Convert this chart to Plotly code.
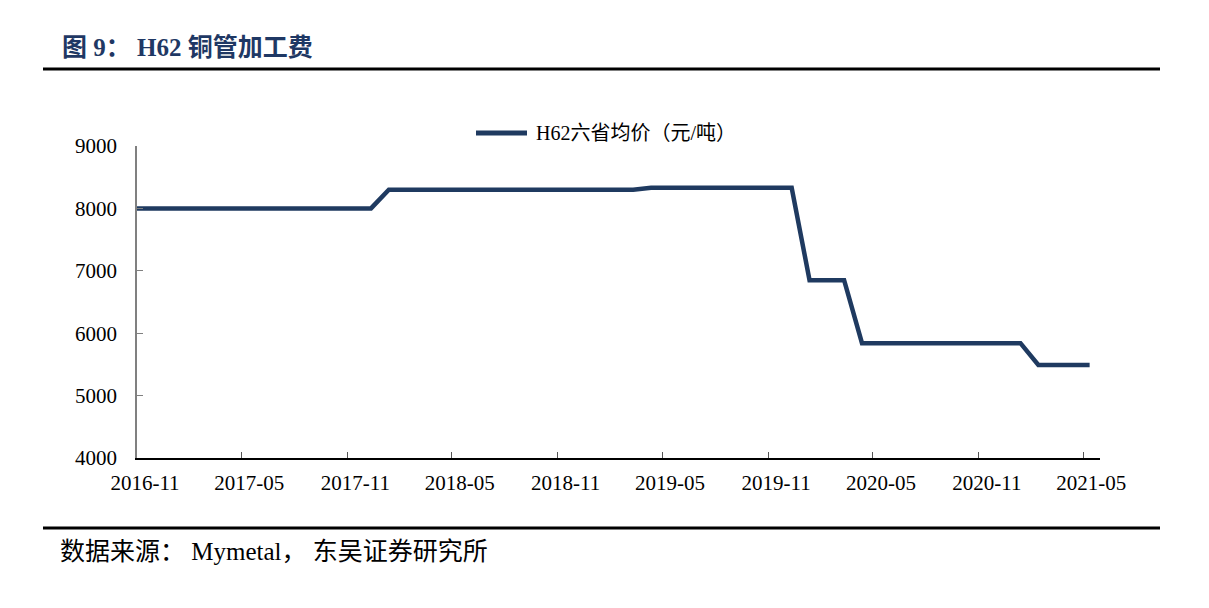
import plotly.graph_objects as go

# H62 copper tube processing fee, monthly readings (yuan/ton)
dates = ["2016-11-01", "2016-12-12",
         "2017-01-12", "2017-02-12", "2017-03-12", "2017-04-12", "2017-05-12", "2017-06-12",
         "2017-07-12", "2017-08-12", "2017-09-12", "2017-10-12", "2017-11-12", "2017-12-12",
         "2018-01-12", "2018-02-12", "2018-03-12", "2018-04-12", "2018-05-12", "2018-06-12",
         "2018-07-12", "2018-08-12", "2018-09-12", "2018-10-12", "2018-11-12", "2018-12-12",
         "2019-01-12", "2019-02-12", "2019-03-12", "2019-04-12", "2019-05-12", "2019-06-12",
         "2019-07-12", "2019-08-12", "2019-09-12", "2019-10-12", "2019-11-12", "2019-12-12",
         "2020-01-12", "2020-02-12", "2020-03-12", "2020-04-12", "2020-05-12", "2020-06-12",
         "2020-07-12", "2020-08-12", "2020-09-12", "2020-10-12", "2020-11-12", "2020-12-12",
         "2021-01-12", "2021-02-12", "2021-03-12", "2021-04-12", "2021-05-12"]
price = [8000, 8000,
         8000, 8000, 8000, 8000, 8000, 8000,
         8000, 8000, 8000, 8000, 8000, 8000,
         8300, 8300, 8300, 8300, 8300, 8300,
         8300, 8300, 8300, 8300, 8300, 8300,
         8300, 8300, 8300, 8330, 8330, 8330,
         8330, 8330, 8330, 8330, 8330, 8330,
         6850, 6850, 6850, 5840, 5840, 5840,
         5840, 5840, 5840, 5840, 5840, 5840,
         5840, 5490, 5490, 5490, 5490]

tick_dates = ["2016-11-01", "2017-05-01", "2017-11-01", "2018-05-01", "2018-11-01",
              "2019-05-01", "2019-11-01", "2020-05-01", "2020-11-01", "2021-05-01"]
tick_text = ["2016-11", "2017-05", "2017-11", "2018-05", "2018-11",
             "2019-05", "2019-11", "2020-05", "2020-11", "2021-05"]
y_ticks = [4000, 5000, 6000, 7000, 8000, 9000]

series_name = "H62六省均价（元/吨）"
navy = "#1F3A60"
serif = "Liberation Serif, Times New Roman, Noto Sans CJK SC"

# page has an 8px body margin, so the figure is drawn 8px in from the window edge
W, H = 1193, 592

fig = go.Figure(go.Scatter(x=dates, y=price, mode="lines",
                           name=series_name, showlegend=False,
                           line=dict(color=navy, width=4.5)))

fig.update_layout(
    width=W, height=H,
    margin=dict(l=129, r=101, t=138, b=142),
    paper_bgcolor="white", plot_bgcolor="white",
    title=dict(text="<b>图 9： H62 铜管加工费</b>", x=54 / W, xanchor="left",
               y=1 - 39.5 / H, yanchor="middle",
               font=dict(family=serif, size=25, color="#1F3864")),
)

fig.update_xaxes(type="date", range=["2016-11-01", "2021-05-30"],
                 tickvals=tick_dates, ticktext=tick_text,
                 ticks="inside", ticklen=6, tickcolor="#555555",
                 showline=True, linecolor="black", linewidth=1.5,
                 showgrid=False, zeroline=False,
                 ticklabelshift=8, ticklabelstandoff=5,
                 tickfont=dict(family=serif, size=21, color="black"))
fig.update_yaxes(range=[4000, 9000], tickvals=y_ticks,
                 ticks="inside", ticklen=6, tickcolor="#808080",
                 showline=True, linecolor="#808080", linewidth=1.5,
                 showgrid=False, zeroline=False,
                 ticklabelstandoff=14,
                 tickfont=dict(family=serif, size=21, color="black"))

# legend key drawn by hand: the reference key line is longer than plotly's
leg_y = (458 - 133) / 312
fig.add_shape(type="line", xref="paper", yref="paper",
              x0=(476 - 137) / 963, x1=(527 - 137) / 963, y0=leg_y, y1=leg_y,
              line=dict(color=navy, width=5))
fig.add_annotation(text=series_name, xref="paper", yref="paper",
                   x=(534 - 137) / 963, xanchor="left", y=leg_y, yanchor="middle",
                   showarrow=False, font=dict(family=serif, size=20, color="black"))

# rules under the title and above the source note
fig.add_shape(type="line", xref="paper", yref="paper",
              x0=(43 - 137) / 963, x1=(1160 - 137) / 963,
              y0=(458 - 69) / 312, y1=(458 - 69) / 312,
              line=dict(color="black", width=3))
fig.add_shape(type="line", xref="paper", yref="paper",
              x0=(43 - 137) / 963, x1=(1160 - 137) / 963,
              y0=(458 - 528) / 312, y1=(458 - 528) / 312,
              line=dict(color="black", width=3))

fig.add_annotation(text="数据来源： Mymetal， 东吴证券研究所", xref="paper", yref="paper",
                   x=(58 - 137) / 963, xanchor="left",
                   y=(458 - 551) / 312, yanchor="middle", showarrow=False,
                   font=dict(family=serif, size=25, color="black"))

fig.write_html("out.html")
